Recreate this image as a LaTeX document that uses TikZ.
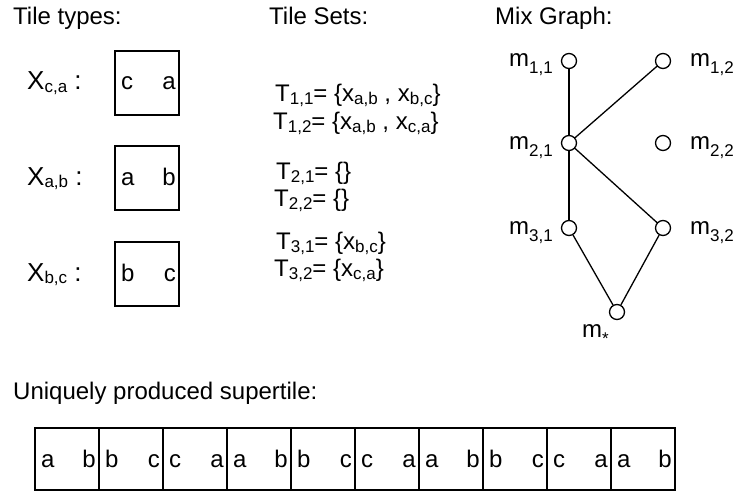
\documentclass[tikz,border=0pt]{standalone}
\usepackage{fontspec}
\setmainfont{Liberation Sans}

\newcommand{\sub}[2][3pt]{\raisebox{-#1}{\fontsize{17}{17}\selectfont #2}}

\tikzset{
  tilebox/.style={draw, line width=1.5pt, minimum width=64pt, minimum height=64pt, inner sep=0pt},
  cellbox/.style={draw, line width=1.5pt, minimum width=64pt, minimum height=62pt, inner sep=0pt},
  mixnode/.style={draw, circle, line width=1.3pt, minimum size=15pt, inner sep=0pt},
  txt/.style={inner sep=0pt, anchor=base west},
  rtxt/.style={inner sep=0pt, anchor=base east},
  edge/.style={line width=1.3pt}
}

\begin{document}
\begin{tikzpicture}[x=1pt, y=-1pt, font=\fontsize{24}{28}\selectfont]
  \useasboundingbox (0,0) rectangle (735,492);

  % headings
  \node[txt] (hTypes) at (13,25) {Tile types:};
  \node[txt] (hSets) at (269,25) {Tile Sets:};
  \node[txt] (hMix) at (495,25) {Mix Graph:};
  \node[txt] (hSuper) at (13,399) {Uniquely produced supertile:};

  % tile types
  \foreach \lab/\l/\r/\y [count=\i] in {{c,a}/c/a/51, {a,b}/a/b/146, {b,c}/b/c/242}{
    \node[tilebox] (t\i) at (147,\y+32) {};
    \node[txt] (t\i l) at (121,\y+39) {\l};
    \node[rtxt] (t\i r) at (176,\y+39) {\r};
    \node[txt, font=\fontsize{26}{28}\selectfont] (x\i) at (27,\y+39) {X\sub[2pt]{\lab} :};
  }

  % tile sets
  \node[txt] (s11) at (275,102) {T\sub{1,1}= \{x\sub{a,b} , x\sub{b,c}\}};
  \node[txt] (s12) at (273,129) {T\sub{1,2}= \{x\sub{a,b} , x\sub{c,a}\}};
  \node[txt] (s21) at (276,179) {T\sub{2,1}= \{\}};
  \node[txt] (s22) at (274,206) {T\sub{2,2}= \{\}};
  \node[txt] (s31) at (276,249) {T\sub{3,1}= \{x\sub{b,c}\}};
  \node[txt] (s32) at (274,276) {T\sub{3,2}= \{x\sub{c,a}\}};

  % mix graph
  \node[mixnode] (m11) at (569,61) {};
  \node[mixnode] (m12) at (663,61) {};
  \node[mixnode] (m21) at (569,143) {};
  \node[mixnode] (m22) at (663,143) {};
  \node[mixnode] (m31) at (569,228) {};
  \node[mixnode] (m32) at (663,228) {};
  \node[mixnode] (mst) at (617,312) {};

  \node[rtxt] (l11) at (553,67) {m\sub[7pt]{1,1}};
  \node[txt] (l12) at (690,67) {m\sub[7pt]{1,2}};
  \node[rtxt] (l21) at (553,149) {m\sub[7pt]{2,1}};
  \node[txt] (l22) at (690,149) {m\sub[7pt]{2,2}};
  \node[rtxt] (l31) at (553,234) {m\sub[7pt]{3,1}};
  \node[txt] (l32) at (690,234) {m\sub[7pt]{3,2}};
  \node[txt] (lst) at (582,337) {m\sub[7pt]{*}};

  \draw[edge] (m11) -- (m21);
  \draw[edge] (m21) -- (m12);
  \draw[edge] (m21) -- (m31);
  \draw[edge] (m21) -- (m32);
  \draw[edge] (m31) -- (mst);
  \draw[edge] (m32) -- (mst);

  % supertile
  \foreach \l/\r [count=\i from 0] in {a/b,b/c,c/a,a/b,b/c,c/a,a/b,b/c,c/a,a/b}{
    \node[cellbox] (c\i) at (67+64*\i,459) {};
    \node[txt] (c\i l) at (41+64*\i,467) {\l};
    \node[rtxt] (c\i r) at (96+64*\i,467) {\r};
  }
\end{tikzpicture}
\end{document}
